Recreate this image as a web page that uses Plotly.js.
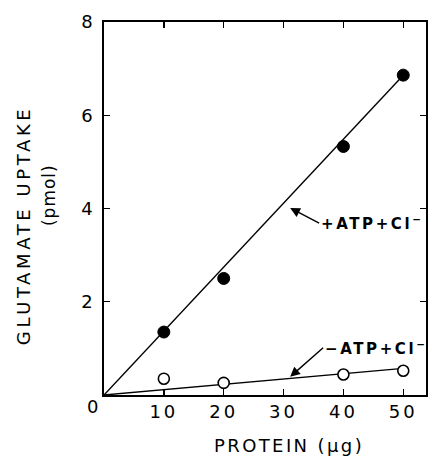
<!DOCTYPE html>
<html><head><meta charset="utf-8">
<script src="https://cdn.plot.ly/plotly-3.0.1.min.js"></script>
<style>
html,body{margin:0;padding:0;background:#fff}
text[data-unformatted="10"], text[data-unformatted="20"], text[data-unformatted="30"],
text[data-unformatted="40"], text[data-unformatted="50"] {letter-spacing:3px}
text[data-unformatted="GLUTAMATE UPTAKE"] {letter-spacing:3.6px}
text[data-unformatted="(pmol)"] {letter-spacing:1px}
text[data-unformatted="PROTEIN (µg)"] {letter-spacing:2.4px}
text[data-unformatted*="ATP"] {letter-spacing:2.6px}
</style>
</head><body><div id="chart" style="width:428px;height:456px"></div>
<script>
// Data
const protein = [10, 20, 40, 50];
const uptakePlusATP = [1.35, 2.5, 5.33, 6.86];
const uptakeMinusATP = [0.35, 0.26, 0.44, 0.52];
const fitProtein = [0, 50];
const fitPlusATP = [0, 6.86];
const fitMinusATP = [0, 0.57];
const xTickVals = [10, 20, 30, 40, 50];
const xTickText = ['10', '20', '30', '40', '50'];
const yTickVals = [2, 4, 6, 8];
const yTickText = ['2', '4', '6', '8'];
const labelPlus = '+ATP+Cl<sup>−</sup>';
const labelMinus = '−ATP+Cl<sup>−</sup>';

const FONT = 'DejaVu Sans, Liberation Sans, Arial, sans-serif';

const traces = [
  {x: fitProtein, y: fitPlusATP, mode: 'lines', line: {color: '#000', width: 1.4}, hoverinfo: 'skip'},
  {x: fitProtein, y: fitMinusATP, mode: 'lines', line: {color: '#000', width: 1.4}, hoverinfo: 'skip'},
  {x: protein, y: uptakePlusATP, mode: 'markers', name: '+ATP+Cl−',
   marker: {symbol: 'circle', size: 12, color: '#000', line: {color: '#000', width: 1}}},
  {x: protein, y: uptakeMinusATP, mode: 'markers', name: '−ATP+Cl−',
   marker: {symbol: 'circle', size: 11, color: '#fff', line: {color: '#000', width: 1.6}}}
];

const axisCommon = {
  showline: true, linecolor: '#000', linewidth: 1.8, mirror: 'ticks',
  ticks: 'inside', ticklen: 6, tickwidth: 1.3, tickcolor: '#000',
  showgrid: false, zeroline: false,
  tickfont: {family: FONT, size: 18, color: '#000'}
};

const layout = {
  width: 428, height: 456,
  margin: {l: 104, r: 2, t: 22, b: 61},
  paper_bgcolor: '#fff', plot_bgcolor: '#fff',
  showlegend: false,
  xaxis: Object.assign({}, axisCommon, {
    range: [0, 53.8], tickmode: 'array', tickvals: xTickVals, ticktext: xTickText,
    ticklabelstandoff: 0
  }),
  yaxis: Object.assign({}, axisCommon, {
    range: [0, 8], tickmode: 'array', tickvals: yTickVals, ticktext: yTickText,
    ticklabelstandoff: 6
  }),
  annotations: [
    {text: 'GLUTAMATE UPTAKE', xref: 'paper', yref: 'paper', x: -0.252, y: 0.455,
     textangle: -90, showarrow: false, xanchor: 'center', yanchor: 'middle',
     font: {family: FONT, size: 18, color: '#000'}},
    {text: '(pmol)', xref: 'paper', yref: 'paper', x: -0.169, y: 0.535,
     textangle: -90, showarrow: false, xanchor: 'center', yanchor: 'middle',
     font: {family: FONT, size: 17, color: '#000'}},
    {text: 'PROTEIN (µg)', xref: 'paper', yref: 'paper', x: 0.573, y: 0,
     yshift: -50, showarrow: false, xanchor: 'center', yanchor: 'middle',
     font: {family: FONT, size: 18, color: '#000'}},
    {text: '0', xref: 'paper', yref: 'paper', x: -0.037, y: -0.0295,
     showarrow: false, xanchor: 'center', yanchor: 'middle',
     font: {family: FONT, size: 18, color: '#000'}},
    {text: labelPlus, x: 31.1, y: 4.01, showarrow: true, ax: 29, ay: 15,
     xanchor: 'left', yanchor: 'middle',
     arrowhead: 2, arrowsize: 1.4, arrowwidth: 1.4, arrowcolor: '#000',
     font: {family: FONT, size: 15, color: '#000', weight: 'bold'}},
    {text: labelMinus, x: 31.1, y: 0.39, showarrow: true, ax: 33, ay: -29,
     xanchor: 'left', yanchor: 'middle',
     arrowhead: 2, arrowsize: 1.4, arrowwidth: 1.4, arrowcolor: '#000',
     font: {family: FONT, size: 15, color: '#000', weight: 'bold'}}
  ]
};

Plotly.newPlot('chart', traces, layout, {staticPlot: true, displayModeBar: false});
</script>
</body></html>
